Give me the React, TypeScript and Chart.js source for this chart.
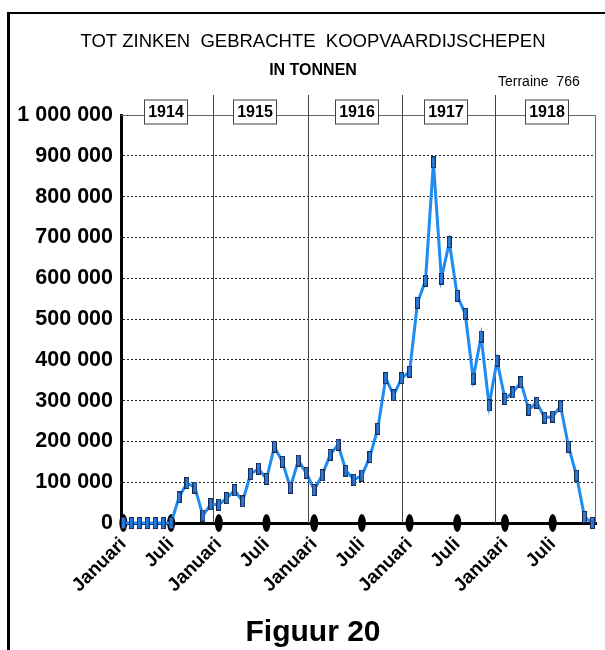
import React, { useEffect, useRef } from 'react';
import { Chart, registerables } from 'chart.js';

Chart.register(...registerables);

// ---- Data (tons of merchant shipping sunk per month) ----
const YEARS = ['1914', '1915', '1916', '1917', '1918'];
const TONNAGE_1914 = [0, 0, 0, 0, 0, 0, 0, 63000, 98000, 87000, 18000, 46000];
const TONNAGE_1915 = [45000, 61000, 80000, 53000, 120000, 133000, 108000, 187000, 150000, 87000, 153000, 123000];
const TONNAGE_1916 = [81000, 117000, 167000, 192000, 128000, 106000, 116000, 162000, 231000, 355000, 313000, 355000];
const TONNAGE_1917 = [371000, 540000, 594000, 884000, 599000, 688000, 557000, 513000, 354000, 457000, 288000, 398000];
const TONNAGE_1918 = [304000, 320000, 345000, 278000, 295000, 258000, 261000, 286000, 187000, 116000, 15000, 0];
const TONNAGE = [...TONNAGE_1914, ...TONNAGE_1915, ...TONNAGE_1916, ...TONNAGE_1917, ...TONNAGE_1918];
const X_TICK_LABELS = ['Januari', 'Juli'];
const X_TICK_MONTHS = [0, 6, 12, 18, 24, 30, 36, 42, 48, 54];
const Y_TICKS = [0, 100000, 200000, 300000, 400000, 500000, 600000, 700000, 800000, 900000, 1000000];

const TITLE_1 = 'TOT ZINKEN  GEBRACHTE  KOOPVAARDIJSCHEPEN';
const TITLE_2 = 'IN TONNEN';
const SOURCE = 'Terraine  766';
const CAPTION = 'Figuur 20';

const FONT = '"Liberation Sans", Arial, Helvetica, sans-serif';

function fmt(v: number): string {
  return String(v).replace(/\B(?=(\d{3})+(?!\d))/g, ' ');
}

function makeMarker(): HTMLCanvasElement {
  const c = document.createElement('canvas');
  c.width = 5;
  c.height = 12;
  const g = c.getContext('2d')!;
  g.fillStyle = '#1b2c55';
  g.fillRect(0, 0, 5, 12);
  g.fillStyle = '#2a78d8';
  g.fillRect(1, 1, 3, 10);
  return c;
}

const decorPlugin = {
  id: 'decor',
  beforeDatasetsDraw(chart: any) {
    const { ctx, chartArea, scales } = chart;
    const x = scales.x;
    ctx.save();
    // top frame line and right border
    ctx.strokeStyle = '#666';
    ctx.lineWidth = 1;
    ctx.beginPath();
    ctx.moveTo(chartArea.left, chartArea.top + 0.5);
    ctx.lineTo(chartArea.right - 0.5, chartArea.top + 0.5);
    ctx.lineTo(chartArea.right - 0.5, chartArea.bottom);
    ctx.stroke();
    // year dividers
    ctx.strokeStyle = '#444';
    [11.3, 23.2, 35.1, 46.8].forEach((m) => {
      const px = Math.round(x.getPixelForValue(m)) + 0.5;
      ctx.beginPath();
      ctx.moveTo(px, chartArea.top - 20);
      ctx.lineTo(px, chartArea.bottom);
      ctx.stroke();
    });
    // oval tick marks
    ctx.fillStyle = '#000';
    X_TICK_MONTHS.forEach((m) => {
      const px = x.getPixelForValue(m);
      ctx.beginPath();
      ctx.ellipse(px, chartArea.bottom, 4, 9, 0, 0, Math.PI * 2);
      ctx.fill();
    });
    ctx.restore();
  },
  afterDraw(chart: any) {
    const { ctx, chartArea, scales } = chart;
    const x = scales.x;
    ctx.save();
    // year boxes
    const centers = [5.4, 16.5, 29.4, 40.55, 53.25];
    ctx.font = `bold 16px ${FONT}`;
    ctx.textAlign = 'center';
    ctx.textBaseline = 'middle';
    YEARS.forEach((yr, i) => {
      const cx = Math.round(x.getPixelForValue(centers[i]));
      const cy = chartArea.top - 3;
      const w = 44, h = 25;
      ctx.fillStyle = '#fff';
      ctx.fillRect(cx - w / 2, cy - h / 2, w, h);
      ctx.strokeStyle = '#444';
      ctx.lineWidth = 1;
      ctx.strokeRect(cx - w / 2 + 0.5, cy - h / 2 + 0.5, w - 1, h - 1);
      ctx.fillStyle = '#000';
      ctx.fillText(yr, cx, cy + 1);
    });
    // titles
    ctx.fillStyle = '#000';
    ctx.font = `18.5px ${FONT}`;
    ctx.fillText(TITLE_1, 313, 42);
    ctx.font = `bold 16px ${FONT}`;
    ctx.fillText(TITLE_2, 313, 71);
    ctx.font = `14px ${FONT}`;
    ctx.textAlign = 'left';
    ctx.fillText(SOURCE, 498, 82);
    ctx.font = `bold 30px ${FONT}`;
    ctx.textAlign = 'center';
    ctx.fillText(CAPTION, 313, 633);
    // outer frame
    ctx.fillStyle = '#000';
    ctx.fillRect(7, 12, 3, 650);
    ctx.fillRect(7, 12, 600, 2);
    ctx.restore();
  },
};

export default function App() {
  const ref = useRef<HTMLCanvasElement | null>(null);
  useEffect(() => {
    if (!ref.current) return;
    const marker = makeMarker();
    const chart = new Chart(ref.current, {
      type: 'line',
      data: {
        datasets: [
          {
            data: TONNAGE.map((v, i) => ({ x: i, y: v })),
            borderColor: '#1e8cf0',
            borderWidth: 3,
            pointStyle: marker as any,
            pointRadius: 6,
            tension: 0,
            clip: false as any,
          },
        ],
      },
      options: {
        animation: false,
        responsive: false,
        maintainAspectRatio: false,
        layout: { padding: { top: 115, right: 6, left: 0, bottom: 0 } },
        plugins: { legend: { display: false }, tooltip: { enabled: false }, title: { display: false } },
        scales: {
          x: {
            type: 'linear',
            min: -0.3,
            max: 59.45,
            afterBuildTicks: (s: any) => {
              s.ticks = X_TICK_MONTHS.map((v) => ({ value: v }));
            },
            afterFit: (s: any) => {
              s.height = 127;
            },
            ticks: {
              autoSkip: false,
              maxRotation: 45,
              minRotation: 45,
              padding: 10,
              color: '#000',
              font: { family: FONT, weight: 'bold', size: 19 },
              callback: (v: any) => X_TICK_LABELS[(Number(v) / 6) % 2],
            },
            grid: { display: false, drawTicks: false },
            border: { color: '#000', width: 3 },
          },
          y: {
            min: 0,
            max: 1000000,
            afterBuildTicks: (s: any) => {
              s.ticks = Y_TICKS.map((v) => ({ value: v }));
            },
            afterFit: (s: any) => {
              s.width = 121;
            },
            ticks: {
              padding: 8,
              color: '#000',
              font: { family: FONT, weight: 'bold', size: 21.5 },
              callback: (v: any) => fmt(Number(v)),
            },
            grid: {
              drawTicks: false,
              lineWidth: 1,
              color: (c: any) => (c.tick && (c.tick.value === 0 || c.tick.value === 1000000) ? 'rgba(0,0,0,0)' : '#222'),
            },
            border: { color: '#000', width: 3, dash: [2, 2] },
          },
        },
      },
      plugins: [decorPlugin],
    });
    return () => chart.destroy();
  }, []);
  return (
    <div style={{ position: 'absolute', left: 0, top: 0, width: 605, height: 650, background: '#fff' }}>
      <canvas ref={ref} width={605} height={650} style={{ display: 'block', width: 605, height: 650 }} />
    </div>
  );
}
